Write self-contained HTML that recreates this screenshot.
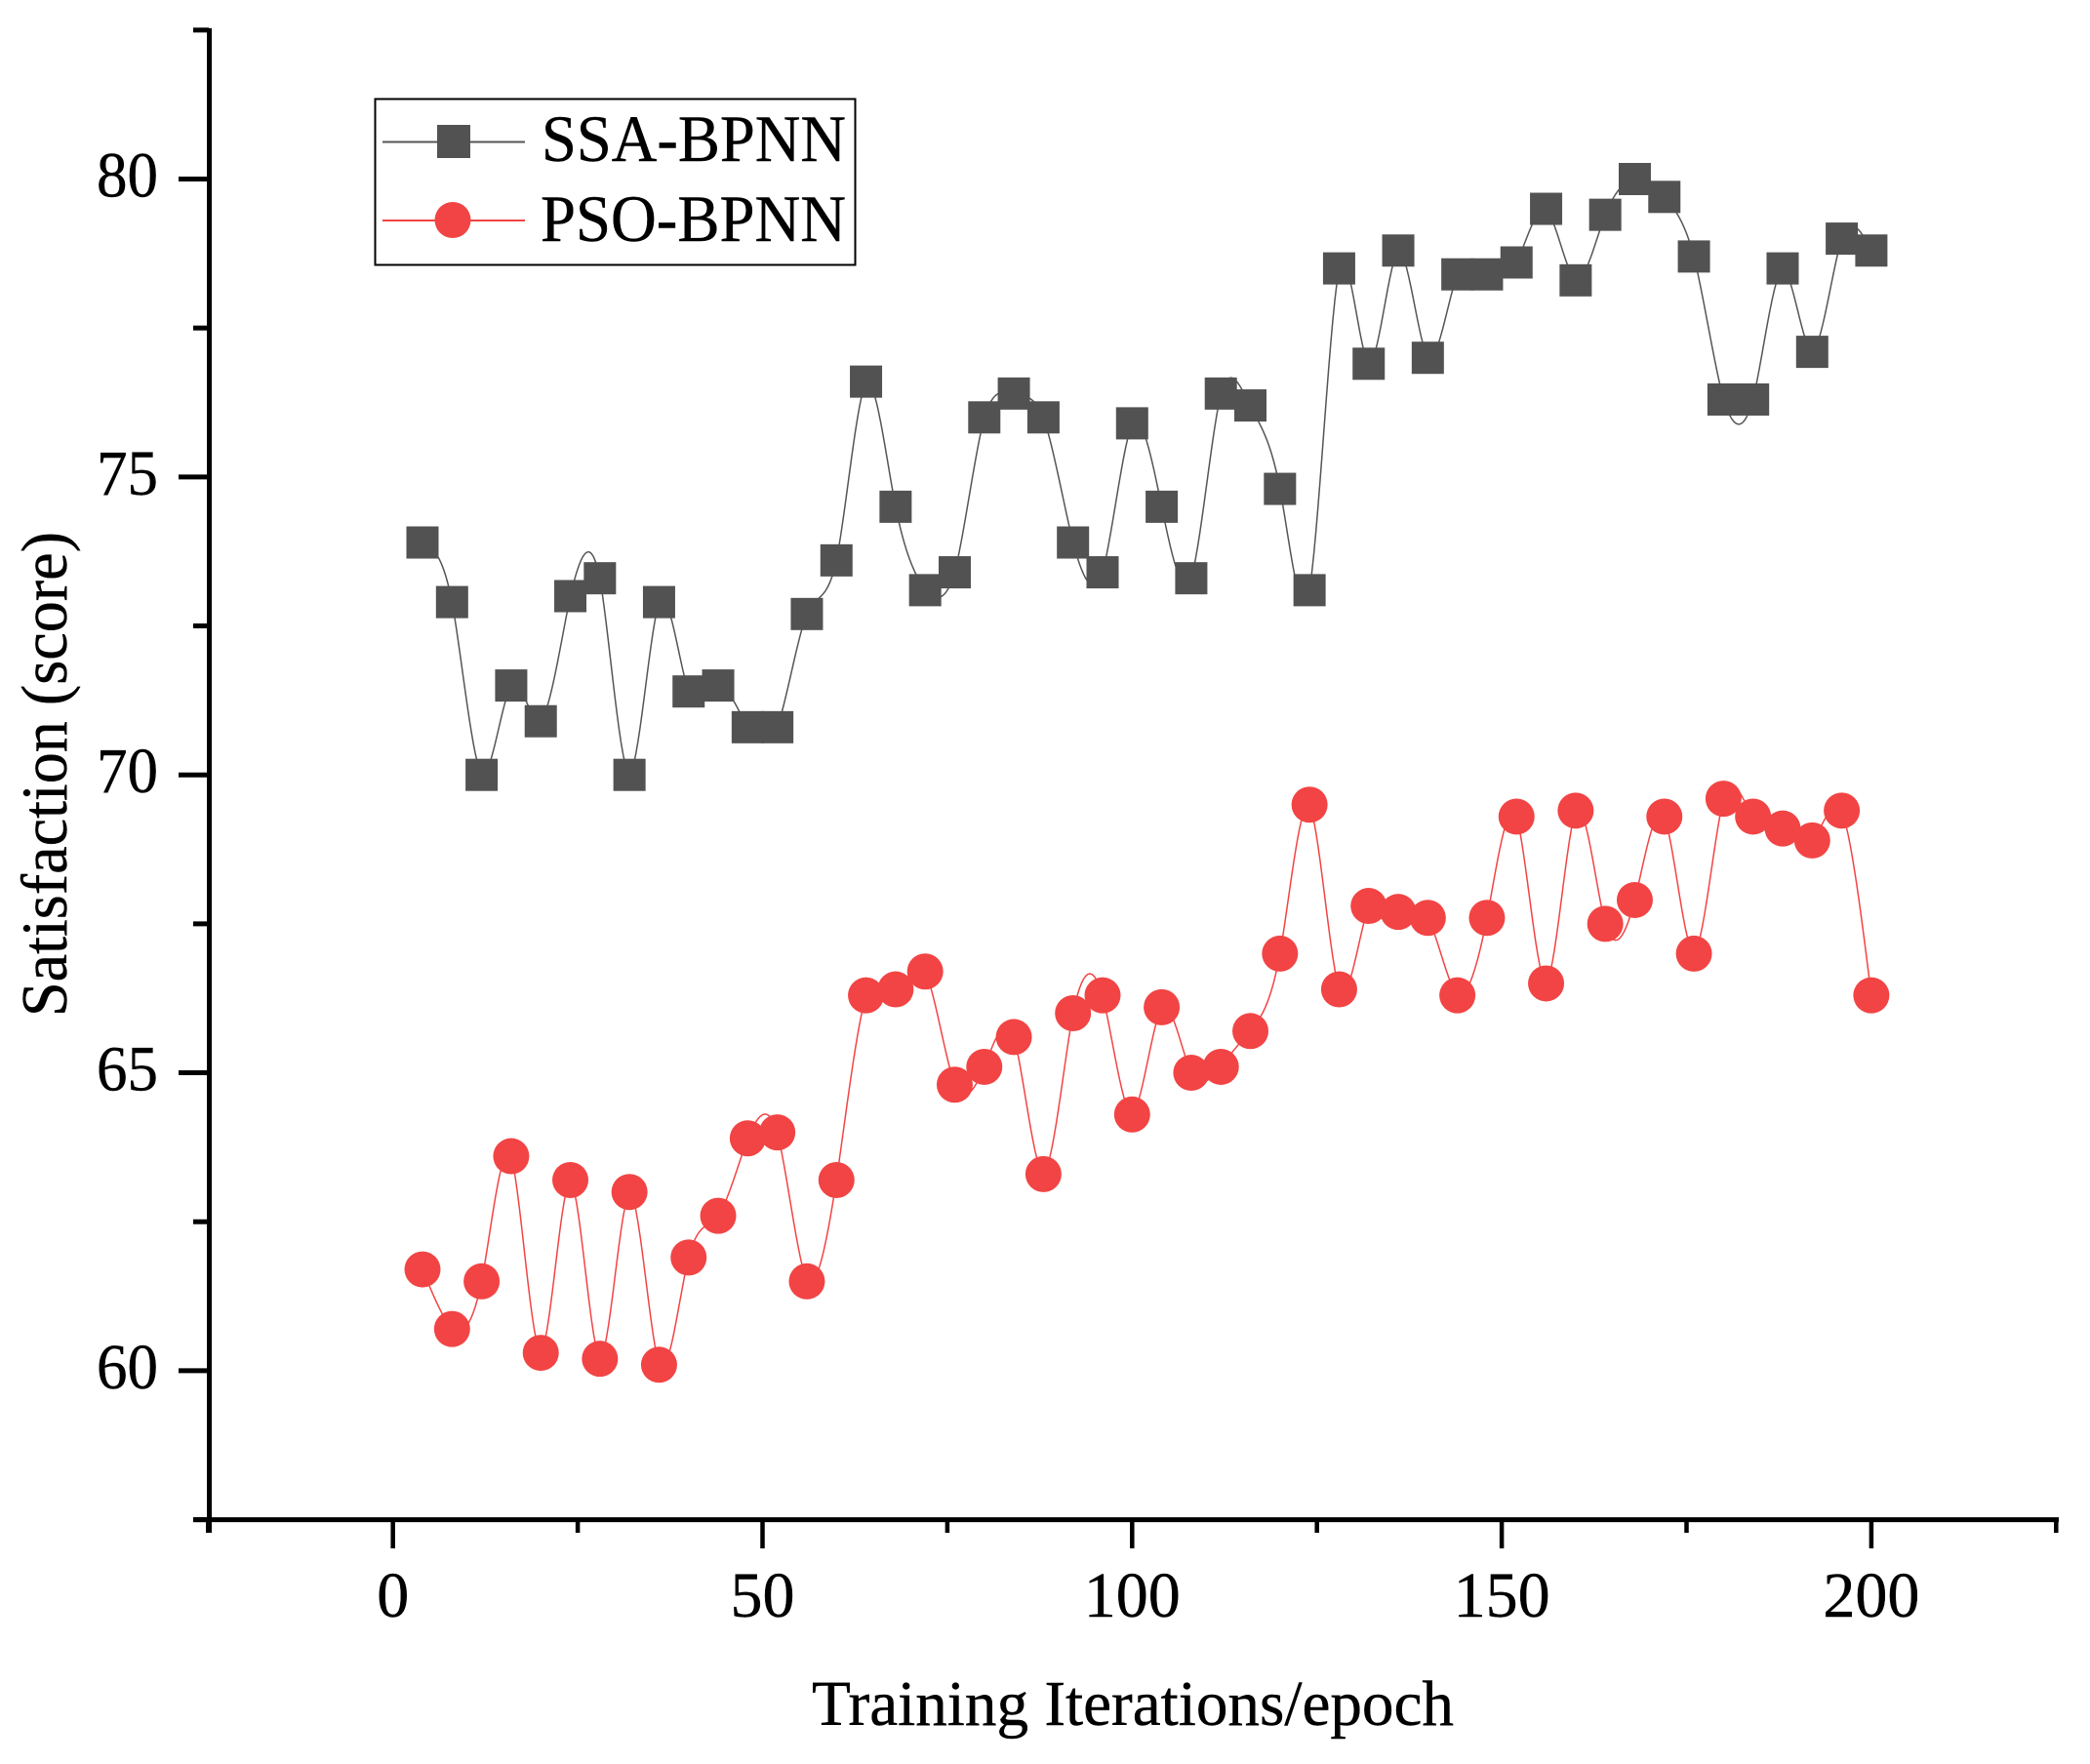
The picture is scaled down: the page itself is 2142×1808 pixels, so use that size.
<!DOCTYPE html>
<html lang="en">
<head>
<meta charset="utf-8">
<title>Satisfaction vs Training Iterations</title>
<style>
html,body{margin:0;padding:0;background:#fff;width:2142px;height:1808px;overflow:hidden}
svg{display:block}
text{font-family:"Liberation Serif",serif;fill:#000;stroke:#000;stroke-width:0.4}
</style>
</head>
<body>
<svg id="chart" xmlns="http://www.w3.org/2000/svg" width="2142" height="1808" viewBox="0 0 2142 1808">
  <rect x="0" y="0" width="2142" height="1808" fill="#ffffff"/>
  <g id="axes"></g>
  <g id="series"></g>
  <text x="832" y="1768" font-size="66" textLength="658" lengthAdjust="spacingAndGlyphs">Training Iterations/epoch</text>
  <text transform="translate(68,1042) rotate(-90)" x="0" y="0" font-size="67" textLength="497" lengthAdjust="spacingAndGlyphs">Satisfaction (score)</text>
  <g>
    <rect x="384.5" y="101.5" width="492" height="170" fill="#fff" stroke="#000" stroke-width="2"/>
    <line x1="392" y1="145.5" x2="538" y2="145.5" stroke="#555" stroke-width="2"/>
    <rect x="448" y="128" width="34" height="34" fill="#525252"/>
    <text x="555" y="165" font-size="68" textLength="312" lengthAdjust="spacingAndGlyphs">SSA-BPNN</text>
    <line x1="392" y1="226" x2="538" y2="226" stroke="#f24444" stroke-width="2"/>
    <circle cx="464" cy="225.5" r="18.5" fill="#f24444"/>
    <text x="554" y="247" font-size="68" textLength="313" lengthAdjust="spacingAndGlyphs">PSO-BPNN</text>
  </g>
</svg>
<script>
const epochs = [4,8,12,16,20,24,28,32,36,40,44,48,52,56,60,64,68,72,76,80,84,88,92,96,100,104,108,112,116,120,124,128,132,136,140,144,148,152,156,160,164,168,172,176,180,184,188,192,196,200];
const ssaValues = [73.9,72.9,70,71.5,70.9,73,73.3,70,72.9,71.4,71.5,70.8,70.8,72.7,73.6,76.6,74.5,73.1,73.4,76,76.4,76,73.9,73.4,75.9,74.5,73.3,76.4,76.2,74.8,73.1,78.5,76.9,78.8,77,78.4,78.4,78.6,79.5,78.3,79.4,80,79.7,78.7,76.3,76.3,78.5,77.1,79,78.8];
const psoValues = [61.7,60.7,61.5,63.6,60.3,63.2,60.2,63,60.1,61.9,62.6,63.9,64,61.5,63.2,66.3,66.4,66.7,64.8,65.1,65.6,63.3,66,66.3,64.3,66.1,65,65.1,65.7,67,69.5,66.4,67.8,67.7,67.6,66.3,67.6,69.3,66.5,69.4,67.5,67.9,69.3,67,69.6,69.3,69.1,68.9,69.4,66.3];
const xMajorTicks = [0,50,100,150,200];
const xMinorTicks = [-25,25,75,125,175,225];
const yMajorTicks = [60,65,70,75,80];
const yMinorTicks = [57.5,62.5,67.5,72.5,77.5,82.5];

const NS = 'http://www.w3.org/2000/svg';
const axesG = document.getElementById('axes');
const seriesG = document.getElementById('series');

function xScale(v){ return 402.7 + v * 7.576; }
function yScale(v){ return 183.5 + (80 - v) * 61.07; }

function make(tag, parent, props){
  const el = document.createElementNS(NS, tag);
  for (const k in props) el.setAttribute(k, props[k]);
  parent.appendChild(el);
  return el;
}

/* cubic spline through the data (curvature slightly relaxed), sampled to a smooth path */
function splinePath(xs, ys){
  const n = xs.length, m = new Array(n).fill(0), c = new Array(n).fill(0), d = new Array(n).fill(0);
  for (let i = 1; i < n - 1; i++){
    const h0 = xs[i] - xs[i-1], h1 = xs[i+1] - xs[i];
    const r = 6 * ((ys[i+1] - ys[i]) / h1 - (ys[i] - ys[i-1]) / h0);
    const b = 2 * (h0 + h1) - h0 * c[i-1];
    c[i] = h1 / b;
    d[i] = (r - h0 * d[i-1]) / b;
  }
  for (let i = n - 2; i > 0; i--) m[i] = d[i] - c[i] * m[i+1];
  const relax = 0.85;
  let out = 'M' + xScale(xs[0]).toFixed(2) + ' ' + yScale(ys[0]).toFixed(2);
  const steps = 14;
  for (let i = 0; i < n - 1; i++){
    const h = xs[i+1] - xs[i];
    for (let s = 1; s <= steps; s++){
      const t = s / steps, a = 1 - t;
      const val = a * ys[i] + t * ys[i+1] + relax * ((a*a*a - a) * m[i] + (t*t*t - t) * m[i+1]) * h * h / 6;
      out += 'L' + xScale(xs[i] + t * h).toFixed(2) + ' ' + yScale(val).toFixed(2);
    }
  }
  return out;
}

/* y axis */
const yAxisLine = make('line', axesG, {x1: 214.5, x2: 214.5, y1: yScale(82.5) - 2, y2: 1571, stroke: '#000', 'stroke-width': 5});



/* x axis */
const xAxisLine = make('line', axesG, {x1: 198, x2: 2110, y1: yScale(57.5), y2: yScale(57.5), stroke: '#000', 'stroke-width': 5});



xMajorTicks.forEach(function(v){
  const tick = make('line', axesG, {x1: xScale(v), x2: xScale(v), y1: 1557, y2: 1587, stroke: '#000', 'stroke-width': 4.5});
  
  
  const label = make('text', axesG, {x: xScale(v), y: 1657, 'font-size': 66, 'text-anchor': 'middle'});
  label.textContent = String(v);
  
  
});
xMinorTicks.forEach(function(v){
  const tick = make('line', axesG, {x1: xScale(v), x2: xScale(v), y1: 1557, y2: 1571, stroke: '#000', 'stroke-width': 4.5});
  
  
});
yMajorTicks.forEach(function(v){
  const tick = make('line', axesG, {x1: 183, x2: 214, y1: yScale(v), y2: yScale(v), stroke: '#000', 'stroke-width': 5});
  
  
  const label = make('text', axesG, {x: 162, y: yScale(v) + 18, 'font-size': 66, 'text-anchor': 'end', textLength: 63, lengthAdjust: 'spacingAndGlyphs'});
  label.textContent = String(v);
  
  
});
yMinorTicks.forEach(function(v){
  const tick = make('line', axesG, {x1: 198, x2: 214, y1: yScale(v), y2: yScale(v), stroke: '#000', 'stroke-width': 5});
  
  
});

/* SSA-BPNN series */
const ssaLine = make('path', seriesG, {d: splinePath(epochs, ssaValues), fill: 'none', stroke: '#555', 'stroke-width': 1.5});


ssaValues.forEach(function(v, i){
  const pt = make('rect', seriesG, {x: xScale(epochs[i]) - 16.5, y: yScale(v) - 16.5, width: 33, height: 33, fill: '#525252'});
  
  
});

/* PSO-BPNN series */
const psoLine = make('path', seriesG, {d: splinePath(epochs, psoValues), fill: 'none', stroke: '#f24444', 'stroke-width': 1.5});


psoValues.forEach(function(v, i){
  const pt = make('circle', seriesG, {cx: xScale(epochs[i]), cy: yScale(v), r: 18.5, fill: '#f24444'});
  
  
});
</script>
</body>
</html>
